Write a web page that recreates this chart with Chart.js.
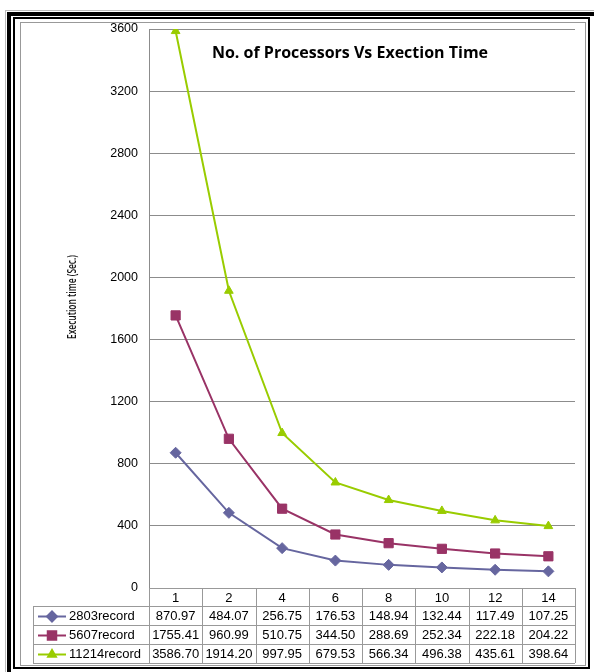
<!DOCTYPE html>
<html>
<head>
<meta charset="utf-8">
<script src="https://cdn.jsdelivr.net/npm/chart.js@4/dist/chart.umd.min.js"></script>
<style>
    html, body { margin: 0; padding: 0; background: #fff; }
    #wrap { position: relative; width: 594px; height: 672px; overflow: hidden; }
    #wrap canvas { position: absolute; left: 0; top: 0; }
    .frame { position: absolute; box-sizing: border-box; pointer-events: none; }
    #frameHair { left: 5px; top: 10px; width: 600px; height: 680px; border: 1px solid #bbb; }
    #frameOuter { left: 7px; top: 12px; width: 600px; height: 680px; border: 4px solid #000; }
    #frameInner { left: 13px; top: 17px; width: 577px; height: 652px; border: 2px solid #000; }
    #frameGray { left: 20px; top: 22px; width: 566px; height: 644px; border: 1px solid #999; }
</style>
</head>
<body>
<div id="wrap">
    <canvas id="timeChart" width="594" height="672"></canvas>
    <div class="frame" id="frameHair"></div>
    <div class="frame" id="frameOuter"></div>
    <div class="frame" id="frameInner"></div>
    <div class="frame" id="frameGray"></div>
</div>
<script>
const processors = ['1', '2', '4', '6', '8', '10', '12', '14'];
const rec2803 = [870.97, 484.07, 256.75, 176.53, 148.94, 132.44, 117.49, 107.25];
const rec5607 = [1755.41, 960.99, 510.75, 344.50, 288.69, 252.34, 222.18, 204.22];
const rec11214 = [3586.70, 1914.20, 997.95, 679.53, 566.34, 496.38, 435.61, 398.64];

const chartTitle = 'No. of Processors Vs Exection Time';
const yTitle = 'Execution time (Sec.)';

const TABLE_FONT = '13px "Liberation Sans", Arial, sans-serif';
const GRID_GRAY = '#8c8c8c';

// Excel-style data table under the plot, columns follow the category scale
const dataTablePlugin = {
    id: 'dataTable',
    afterDraw(chart) {
        const ctx = chart.ctx;
        const area = chart.chartArea;
        const xs = chart.scales.x;
        const colW = (area.right - area.left) / processors.length;
        const legendLeft = 33;
        const headTop = area.bottom;
        const headH = 18;
        const rowH = 19;
        const rowsTop = headTop + headH;
        const tableBottom = rowsTop + rowH * chart.data.datasets.length;

        ctx.save();
        ctx.strokeStyle = '#999';
        ctx.lineWidth = 1;
        ctx.beginPath();
        // header row: only under the plot
        ctx.moveTo(area.left, headTop + 0.5);
        ctx.lineTo(area.right, headTop + 0.5);
        // value rows span the legend column too
        for (let r = 0; r <= chart.data.datasets.length; r++) {
            const y = Math.round(rowsTop + r * rowH) + 0.5;
            ctx.moveTo(legendLeft, y);
            ctx.lineTo(area.right, y);
        }
        ctx.moveTo(legendLeft + 0.5, rowsTop);
        ctx.lineTo(legendLeft + 0.5, tableBottom);
        for (let c = 0; c <= processors.length; c++) {
            const x = Math.round(area.left + c * colW) + 0.5;
            ctx.moveTo(x, headTop);
            ctx.lineTo(x, tableBottom);
        }
        ctx.stroke();

        ctx.font = TABLE_FONT;
        ctx.fillStyle = '#000';
        ctx.textAlign = 'center';
        ctx.textBaseline = 'middle';
        processors.forEach((p, i) => {
            ctx.fillText(p, xs.getPixelForValue(i), headTop + headH / 2 + 1);
        });

        chart.data.datasets.forEach((ds, r) => {
            const cy = rowsTop + r * rowH + rowH / 2 + 1;
            ctx.textAlign = 'center';
            ctx.fillStyle = '#000';
            ds.data.forEach((v, i) => {
                ctx.fillText(v.toFixed(2), xs.getPixelForValue(i), cy);
            });

            // legend key: line sample with the series marker
            const ly = Math.round(rowsTop + r * rowH + rowH / 2) + 0.5;
            ctx.strokeStyle = ds.borderColor;
            ctx.lineWidth = 2;
            ctx.beginPath();
            ctx.moveTo(38, ly);
            ctx.lineTo(66, ly);
            ctx.stroke();
            ctx.fillStyle = ds.pointBackgroundColor;
            ctx.strokeStyle = ds.borderColor;
            Chart.helpers.drawPoint(ctx, {
                pointStyle: ds.pointStyle,
                radius: ds.pointRadius - 0.5,
                rotation: 0,
                borderWidth: 1
            }, 52, ly);

            ctx.fillStyle = '#000';
            ctx.textAlign = 'left';
            ctx.fillText(ds.label, 69, cy);
        });
        ctx.restore();
    }
};

// heading inside the plot area and the rotated y caption
const titlesPlugin = {
    id: 'titles',
    afterDraw(chart) {
        const ctx = chart.ctx;
        ctx.save();
        ctx.font = 'bold 16px "Open Sans", sans-serif';
        ctx.fillStyle = '#000';
        ctx.textAlign = 'center';
        ctx.textBaseline = 'middle';
        ctx.fillText(chartTitle, 350, 53);

        ctx.translate(73, 297);
        ctx.rotate(-Math.PI / 2);
        ctx.font = '600 12px "Open Sans", sans-serif';
        ctx.fillStyle = '#111';
        const w = ctx.measureText(yTitle).width;
        ctx.scale(84 / w, 1);
        ctx.fillText(yTitle, 0, 0);
        ctx.restore();
    }
};

function series(label, data, color, style, radius) {
    return {
        label: label,
        data: data,
        borderColor: color,
        backgroundColor: color,
        pointBackgroundColor: color,
        pointBorderColor: color,
        pointStyle: style,
        pointRadius: radius,
        pointBorderWidth: 1,
        borderWidth: 2,
        tension: 0
    };
}

new Chart(document.getElementById('timeChart'), {
    type: 'line',
    data: {
        labels: processors,
        datasets: [
            series('2803record', rec2803, '#66669f', 'rectRot', 5.5),
            series('5607record', rec5607, '#993366', 'rect', 6.5),
            series('11214record', rec11214, '#99cc00', 'triangle', 5)
        ]
    },
    options: {
        responsive: false,
        animation: false,
        layout: { padding: { left: 0, top: 29, right: 19, bottom: 84 } },
        plugins: {
            legend: { display: false },
            title: { display: false },
            tooltip: { enabled: false }
        },
        scales: {
            x: {
                display: false,
                offset: true
            },
            y: {
                min: 0,
                max: 3600,
                afterFit: (scale) => { scale.width = 149; },
                ticks: {
                    stepSize: 400,
                    padding: 11,
                    color: '#000',
                    callback: (v) => String(v),
                    font: { family: '"Liberation Sans", Arial, sans-serif', size: 12.5 }
                },
                grid: { color: GRID_GRAY, lineWidth: 1, drawTicks: false },
                border: { display: true, color: GRID_GRAY }
            }
        }
    },
    plugins: [dataTablePlugin, titlesPlugin]
});
</script>
</body>
</html>
